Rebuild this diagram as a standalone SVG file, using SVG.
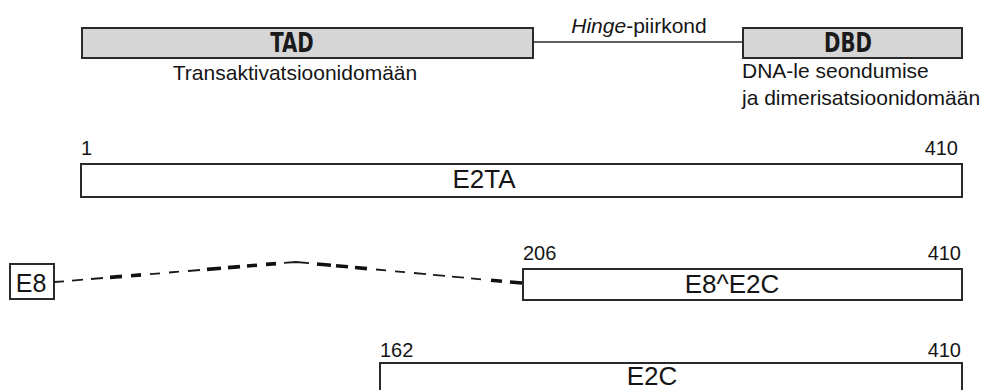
<svg xmlns="http://www.w3.org/2000/svg" width="986" height="390" viewBox="0 0 986 390">
  <style>
    .lbl { font-family: "Liberation Sans", Arial, sans-serif; fill: #151515; }
    .num { font-family: "Liberation Sans", Arial, sans-serif; fill: #151515; font-size: 20px; }
    .name { font-family: "Liberation Sans", Arial, sans-serif; fill: #151515; font-size: 26px; text-anchor: middle; }
    .dom { fill: #d6d6d6; stroke: #2a2a2a; stroke-width: 2; }
    .bar { fill: #ffffff; stroke: #2a2a2a; stroke-width: 2; }
    .domtxt { font-family: "DejaVu Sans Condensed", "DejaVu Sans", sans-serif; font-weight: bold; font-size: 22px; fill: #1a1a1a; text-anchor: middle; }
    .thin { stroke: #1a1a1a; stroke-width: 1.8; fill: none; }
    .bold { stroke: #111; stroke-width: 3.6; fill: none; }
  </style>
  <rect width="986" height="390" fill="#ffffff"/>

  <!-- domain map -->
  <g id="hinge">
    <line x1="533" y1="42" x2="743" y2="42" stroke="#2a2a2a" stroke-width="1.6"/>
    <text class="lbl" x="639" y="33" font-size="21" text-anchor="middle"><tspan font-style="italic">Hinge</tspan>-piirkond</text>
  </g>
  <g id="tad">
    <rect class="dom" x="82" y="28" width="451" height="30"/>
    <text class="domtxt" transform="translate(292 52) scale(1 1.2)">TAD</text>
    <text class="lbl" x="295" y="80" font-size="21" text-anchor="middle">Transaktivatsioonidomään</text>
  </g>
  <g id="dbd">
    <rect class="dom" x="743" y="28" width="219" height="30"/>
    <text class="domtxt" transform="translate(848 52) scale(1 1.2)">DBD</text>
    <text class="lbl" x="742" y="78" font-size="21">DNA-le seondumise</text>
    <text class="lbl" x="742" y="105" font-size="21">ja dimerisatsioonidomään</text>
  </g>

  <!-- E2TA -->
  <g id="e2ta">
    <rect class="bar" x="81" y="164" width="881" height="33"/>
    <text class="num" x="81" y="155">1</text>
    <text class="num" x="958" y="155" text-anchor="end">410</text>
    <text class="name" x="484" y="188">E2TA</text>
  </g>

  <!-- E8 exon -->
  <g id="e8">
    <rect class="bar" x="10" y="264" width="44" height="35"/>
    <text class="lbl" x="31" y="292" font-size="25" text-anchor="middle">E8</text>
  </g>

  <!-- E8^E2C -->
  <g id="e8e2c">
    <rect class="bar" x="523" y="269" width="439" height="31"/>
    <text class="num" x="523" y="260">206</text>
    <text class="num" x="961" y="260" text-anchor="end">410</text>
    <text class="name" x="732" y="293">E8^E2C</text>
  </g>

  <!-- E2C -->
  <g id="e2c">
    <rect class="bar" x="380" y="363" width="582" height="40"/>
    <text class="num" x="380" y="357">162</text>
    <text class="num" x="961" y="357" text-anchor="end">410</text>
    <text class="name" x="652" y="385" font-size="25">E2C</text>
  </g>

  <!-- splice connector: dashed arc from E8 to E8^E2C -->
  <g id="connectors">
    <path class="thin" d="M54 282 L64 281.3 M72 280.6 L83 279.7 M91 279 L103 278"/>
    <path class="bold" d="M110 277.4 L122 276.4 M131 275.7 L141 274.9"/>
    <path class="thin" d="M150 274.1 L160 273.3 M169 272.5 L179 271.7 M188 271 L200 270"/>
    <path class="bold" d="M207 269.4 L221 268.2 M228 267.6 L240 266.6 M247 266 L257 265.2 M266 264.4 L276 263.6"/>
    <path class="thin" d="M284 262.8 L296 262 L309 263.2"/>
    <path class="bold" d="M317 264 L331 265.3 M336 265.7 L348 266.8 M355 267.5 L367 268.6"/>
    <path class="thin" d="M376 269.5 L386 270.4 M395 271.3 L405 272.2 M414 273 L426 274.2 M433 274.8 L445 275.9 M452 276.6 L464 277.7 M471 278.4 L481 279.4"/>
    <path class="bold" d="M491 280.2 L502 281.3 M510 282 L522 283"/>
  </g>
</svg>
